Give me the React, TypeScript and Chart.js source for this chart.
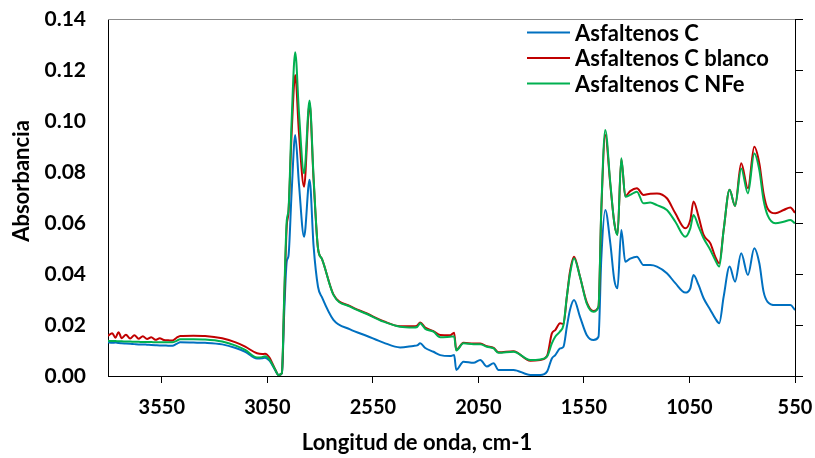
import React, { useEffect, useRef } from "react";
import { Chart, registerables } from "chart.js";

Chart.register(...registerables);

const wavenumbers = [
  3805, 3785, 3770, 3755, 3740, 3720, 3700, 3680, 3660, 3640, 3620, 3600, 3580, 3560, 3540, 3520, 3500, 3480,
  3463, 3400, 3345, 3264, 3200, 3155, 3099, 3075, 3061, 3040, 3015, 2997, 2981, 2970, 2958, 2950, 2935, 2918,
  2900, 2876, 2850, 2831, 2810, 2792, 2737, 2658, 2578, 2500, 2421, 2358, 2340, 2326, 2302, 2263, 2231, 2184,
  2165, 2155, 2121, 2073, 2041, 2010, 1978, 1955, 1884, 1804, 1757, 1725, 1702, 1686, 1663, 1647, 1631, 1616,
  1597, 1569, 1537, 1505, 1481, 1468, 1449, 1425, 1406, 1391, 1373, 1354, 1331, 1299, 1268, 1236, 1204, 1157,
  1117, 1070, 1046, 1031, 1007, 983, 951, 928, 909, 888, 860, 834, 805, 773, 743, 719, 699, 680, 643, 604, 572, 550,
];

const asfaltenosC = [
  0.0132, 0.013, 0.0131, 0.0129, 0.0128, 0.0127, 0.0126, 0.0125, 0.0124, 0.0124, 0.0123, 0.0122, 0.0121, 0.012, 0.012, 0.0119, 0.0119, 0.0126,
  0.0132, 0.0131, 0.013, 0.0124, 0.011, 0.0095, 0.0069, 0.007, 0.0072, 0.006, 0.0026, 0.0004, 0.001, 0.025, 0.045, 0.047, 0.072, 0.0945,
  0.075, 0.0546, 0.077, 0.051, 0.035, 0.031, 0.022, 0.0183, 0.0157, 0.0131, 0.0112, 0.0118, 0.012, 0.0128, 0.011, 0.0095, 0.0082, 0.0078,
  0.0082, 0.0024, 0.0056, 0.0052, 0.0063, 0.0037, 0.005, 0.0024, 0.0024, 0.0004, 0.0004, 0.0017, 0.0069, 0.0082, 0.0108, 0.0115, 0.0193, 0.026,
  0.0298, 0.0233, 0.0161, 0.0141, 0.0154, 0.0455, 0.0651, 0.052, 0.0376, 0.0344, 0.0573, 0.0448, 0.046, 0.0468, 0.0435, 0.0435, 0.0429, 0.0403,
  0.0364, 0.0327, 0.0344, 0.0396, 0.0357, 0.0305, 0.0259, 0.0226, 0.0207, 0.0311, 0.0429, 0.037, 0.0481, 0.0396, 0.0501, 0.0442, 0.0331, 0.0291, 0.0278, 0.0278, 0.0278, 0.0259,
];

const asfaltenosCBlanco = [
  0.0157, 0.0168, 0.015, 0.0172, 0.0148, 0.0162, 0.0147, 0.016, 0.0146, 0.0156, 0.0145, 0.0152, 0.0142, 0.0148, 0.0141, 0.014, 0.0139, 0.015,
  0.0157, 0.0158, 0.0157, 0.0148, 0.0132, 0.0115, 0.0089, 0.0086, 0.0087, 0.0072, 0.003, 0.0004, 0.0012, 0.03, 0.059, 0.064, 0.095, 0.118,
  0.095, 0.0742, 0.107, 0.077, 0.05, 0.046, 0.032, 0.0274, 0.0245, 0.0215, 0.0195, 0.0195, 0.0198, 0.021, 0.019, 0.0176, 0.0161, 0.016,
  0.017, 0.0102, 0.013, 0.0127, 0.0127, 0.0117, 0.011, 0.0093, 0.0097, 0.006, 0.0063, 0.0078, 0.0167, 0.018, 0.0207, 0.0204, 0.031, 0.041,
  0.0468, 0.039, 0.029, 0.0255, 0.0272, 0.064, 0.0945, 0.075, 0.06, 0.0555, 0.085, 0.0705, 0.0725, 0.0736, 0.071, 0.0715, 0.0716, 0.0697,
  0.0638, 0.0579, 0.0612, 0.0684, 0.0625, 0.0553, 0.052, 0.0468, 0.0442, 0.0573, 0.073, 0.0667, 0.0834, 0.0736, 0.0899, 0.0834, 0.0716, 0.0657, 0.0638, 0.0651, 0.0661, 0.064,
];

const asfaltenosCNFe = [
  0.0138, 0.0137, 0.0137, 0.0136, 0.0136, 0.0135, 0.0135, 0.0134, 0.0134, 0.0133, 0.0133, 0.0133, 0.0132, 0.0132, 0.0132, 0.0132, 0.0132, 0.0138,
  0.0144, 0.0144, 0.0143, 0.0135, 0.0119, 0.0102, 0.0073, 0.0074, 0.0077, 0.0064, 0.0028, 0.0004, 0.0012, 0.032, 0.061, 0.065, 0.1, 0.127,
  0.103, 0.0795, 0.108, 0.078, 0.05, 0.046, 0.0318, 0.0272, 0.0243, 0.0213, 0.0193, 0.019, 0.0192, 0.0207, 0.0185, 0.0174, 0.0152, 0.0154,
  0.0155, 0.01, 0.0128, 0.0125, 0.0125, 0.0115, 0.0108, 0.0091, 0.0095, 0.0063, 0.0065, 0.0076, 0.0128, 0.0154, 0.0175, 0.02, 0.0311, 0.04,
  0.0462, 0.039, 0.0285, 0.0252, 0.0272, 0.065, 0.0965, 0.0756, 0.0599, 0.0553, 0.0854, 0.0703, 0.071, 0.0723, 0.0677, 0.068, 0.067, 0.0651,
  0.0605, 0.0546, 0.0579, 0.0631, 0.0586, 0.054, 0.0494, 0.0455, 0.0429, 0.0573, 0.073, 0.0667, 0.0814, 0.0716, 0.0873, 0.0808, 0.069, 0.0631, 0.0599, 0.0605, 0.0612, 0.0599,
];

const seriesLabels = ["Asfaltenos C", "Asfaltenos C blanco", "Asfaltenos C NFe"];
const seriesColors = ["#0070C0", "#C00000", "#00B050"];
const xTickValues = [550, 1050, 1550, 2050, 2550, 3050, 3550];
const xAxisTitle = "Longitud de onda, cm-1";
const yAxisTitle = "Absorbancia";

const FONT = "Lato, 'Open Sans', sans-serif";

export default function App() {
  const canvasRef = useRef<HTMLCanvasElement | null>(null);

  useEffect(() => {
    const canvas = canvasRef.current;
    if (!canvas) return;
    const values = [asfaltenosC, asfaltenosCBlanco, asfaltenosCNFe];
    const datasets = values.map((vals, i) => ({
      label: seriesLabels[i],
      data: wavenumbers.map((w, j) => ({ x: w, y: vals[j] })),
      borderColor: seriesColors[i],
      backgroundColor: seriesColors[i],
      borderWidth: 2,
      pointRadius: 0,
      cubicInterpolationMode: "monotone" as const,
      order: 3 - i,
    }));

    const decor = {
      id: "decor",
      afterDraw(chart: any) {
        const ctx = chart.ctx;
        const a = chart.chartArea;
        ctx.save();
        // top border
        ctx.strokeStyle = "#8c8c8c";
        ctx.lineWidth = 1;
        ctx.beginPath();
        ctx.moveTo(a.left, a.top + 0.5);
        ctx.lineTo(a.right, a.top + 0.5);
        ctx.stroke();
        // legend
        ctx.font = `bold 22px ${FONT}`;
        ctx.textBaseline = "middle";
        ctx.textAlign = "left";
        chart.data.datasets
          .slice()
          .sort((p: any, q: any) => seriesLabels.indexOf(p.label) - seriesLabels.indexOf(q.label))
          .forEach((ds: any, i: number) => {
            const y = 32.5 + i * 25.5;
            ctx.strokeStyle = ds.borderColor;
            ctx.lineWidth = 2;
            ctx.beginPath();
            ctx.moveTo(527, y);
            ctx.lineTo(570, y);
            ctx.stroke();
            ctx.fillStyle = "#000";
            ctx.fillText(ds.label, 575, y + 1);
          });
        // axis titles
        ctx.fillStyle = "#000";
        ctx.textAlign = "center";
        ctx.font = `bold 22px ${FONT}`;
        ctx.fillText(xAxisTitle, 417, 443);
        ctx.translate(22, 181);
        ctx.rotate(-Math.PI / 2);
        ctx.fillText(yAxisTitle, 0, 0);
        ctx.restore();
      },
    };

    const chart = new Chart(canvas, {
      type: "line",
      data: { datasets },
      options: {
        animation: false,
        responsive: false,
        maintainAspectRatio: false,
        layout: { padding: { top: 19, left: 0, right: 0, bottom: 0 } },
        plugins: { legend: { display: false }, tooltip: { enabled: false } },
        scales: {
          x: {
            type: "linear",
            reverse: true,
            min: 550,
            max: 3805,
            afterBuildTicks: (scale: any) => {
              scale.ticks = xTickValues.map((v) => ({ value: v }));
            },
            afterFit: (scale: any) => {
              scale.height = 82;
              scale.paddingLeft = 0;
              scale.paddingRight = 0;
            },
            ticks: {
              color: "#000",
              font: { family: FONT, size: 20, weight: "bold" },
              padding: 13,
              maxRotation: 0,
              autoSkip: false,
              callback: (v: any) => String(v),
            },
            grid: { drawOnChartArea: false, drawTicks: true, tickLength: 7, color: "#000" },
            border: { display: true, color: "#000", width: 1 },
          },
          y: {
            type: "linear",
            position: "left",
            min: 0,
            max: 0.14,
            afterFit: (scale: any) => {
              scale.width = 108;
              scale.paddingTop = 0;
              scale.paddingBottom = 0;
            },
            ticks: {
              stepSize: 0.02,
              color: "#000",
              font: { family: FONT, size: 21, weight: "bold" },
              padding: 22,
              callback: (v: any) => Number(v).toFixed(2),
            },
            grid: { display: false, drawTicks: false },
            border: { display: true, color: "#000", width: 1 },
          },
          y2: {
            type: "linear",
            position: "right",
            min: 0,
            max: 0.14,
            afterFit: (scale: any) => {
              scale.width = 20;
              scale.paddingTop = 0;
              scale.paddingBottom = 0;
            },
            ticks: { stepSize: 0.02, display: false },
            grid: { drawOnChartArea: false, drawTicks: true, tickLength: 8, color: "#000" },
            border: { display: true, color: "#000", width: 1 },
          },
        },
      } as any,
      plugins: [decor],
    });
    return () => chart.destroy();
  }, []);

  return (
    <div style={{ position: "fixed", left: 0, top: 0, width: 815, height: 458, background: "#fff" }}>
      <canvas ref={canvasRef} width={815} height={458} style={{ width: 815, height: 458 }} />
    </div>
  );
}
